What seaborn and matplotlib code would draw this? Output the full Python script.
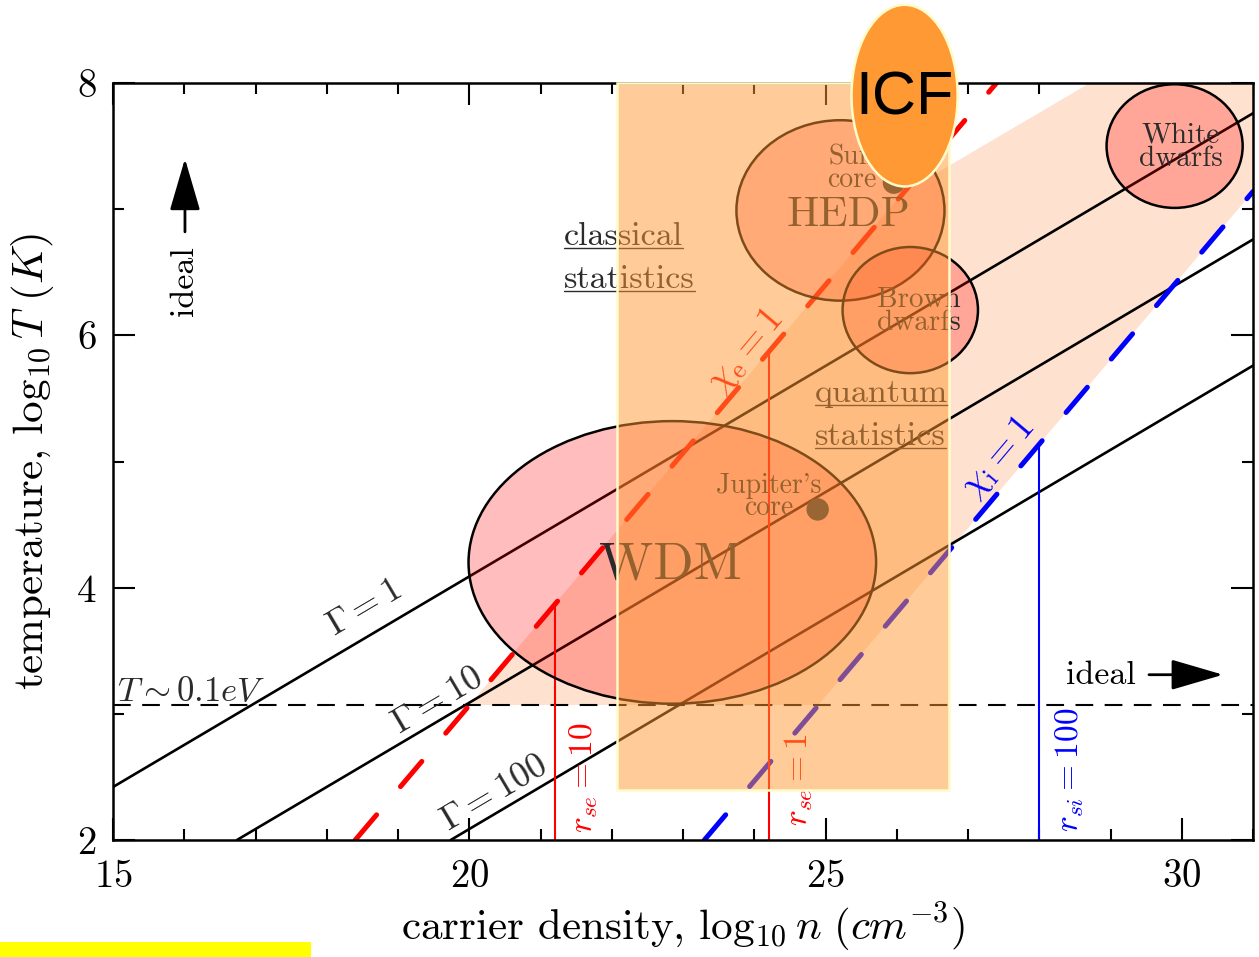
import numpy as np
import pandas as pd
import seaborn as sns
import matplotlib.pyplot as plt
from matplotlib.patches import Ellipse, Rectangle

# coupling lines Gamma = 1, 10, 100 (end points)
gamma_names = [r"$\Gamma = 1$", r"$\Gamma = 10$", r"$\Gamma = 100$"]
gamma_x0 = [15.0, 16.74, 19.74]
gamma_y0 = [2.42, 2.0, 2.0]
gamma_x1 = [31.0, 31.0, 31.0]
gamma_y1 = [7.76, 6.76, 5.76]
gamma_lab_x = [18.52, 19.55, 20.35]
gamma_lab_y = [3.84, 3.10, 2.37]

# degeneracy lines chi = 1
chi_e_x = [18.4, 27.4]
chi_e_y = [2.0, 8.0]
chi_i_x = [23.3, 31.0]
chi_i_y = [2.0, 7.14]

# T ~ 0.1 eV
t_01ev = 3.07

# r_s = const lines
rs_names = [r"$r_{se} = 10$", r"$r_{se} = 1$", r"$r_{si} = 100$"]
rs_x = [21.2, 24.2, 28.0]
rs_top = [3.87, 5.87, 5.14]
rs_colors = ["red", "red", "blue"]
rs_lab_x = [21.61, 24.63, 28.43]
rs_lab_y = [2.49, 2.48, 2.56]

# warm dense matter band
wdm_x = [20.0, 26.09, 28.71, 31.0, 31.0, 24.9]
wdm_y = [3.07, 7.13, 8.0, 8.0, 7.14, 3.07]

# regimes / objects
obj_names = ["WDM", "HEDP", "Brown\ndwarfs", "White\ndwarfs"]
obj_x = [22.85, 25.21, 26.19, 29.90]
obj_y = [4.20, 6.99, 6.20, 7.50]
obj_w = [5.72, 2.92, 1.90, 1.91]
obj_h = [2.24, 1.43, 1.00, 0.98]
obj_lab_x = [22.82, 25.32, 26.31, 29.99]
obj_lab_y = [4.18, 6.95, 6.19, 7.49]
obj_lab_size = [38, 31, 21, 21]

# planet / star cores
core_names = ["Sun\ncore", "Jupiter's\ncore"]
core_x = [25.96, 24.89]
core_y = [7.21, 4.62]
core_lab_x = [25.37, 24.20]
core_lab_y = [7.32, 4.72]

# ICF box and blob
icf_x = [22.08, 26.73]
icf_y = [2.40, 8.0]
icf_blob = [26.11, 7.90, 1.49, 1.44]

sns.set_theme(style="ticks")
plt.rcParams["font.family"] = ["cmr10", "DejaVu Serif"]
plt.rcParams["mathtext.fontset"] = "cm"
plt.rcParams["axes.formatter.use_mathtext"] = True
plt.rcParams["axes.unicode_minus"] = False

fig = plt.figure(figsize=(12.59, 9.57), dpi=100)
ax = fig.add_axes([113/1259, 1-840/957, 1140/1259, 757/957])

txt = "#2b2b2b"

# peach band
ax.fill(wdm_x, wdm_y, color="#FFE1CF", lw=0, zorder=1)

# Gamma lines
for i in range(3):
    sns.lineplot(x=[gamma_x0[i], gamma_x1[i]], y=[gamma_y0[i], gamma_y1[i]],
                 color="black", lw=1.9, ax=ax, zorder=2)
    ax.text(gamma_lab_x[i], gamma_lab_y[i], gamma_names[i], fontsize=26,
            rotation=30.6, rotation_mode="anchor", ha="center", va="center",
            color=txt, zorder=4)

ax.axhline(t_01ev, color="black", lw=1.5, dashes=(8.5, 5.5), zorder=2)
ax.text(15.06, t_01ev + 0.1, r"$T\sim0.1eV$", fontsize=25, ha="left",
        va="center", color=txt, zorder=4)

sns.lineplot(x=chi_e_x, y=chi_e_y, color="red", lw=3.6, ax=ax, zorder=2,
             linestyle=(0, (6.6, 7.4)))
sns.lineplot(x=chi_i_x, y=chi_i_y, color="blue", lw=3.6, ax=ax, zorder=2,
             linestyle=(0, (6.6, 7.4)))
for ln in ax.get_lines()[-2:]:
    ln.set_dash_capstyle("round")
ax.text(23.88, 5.88, r"$\chi_{\mathrm{e}} = 1$", fontsize=27, color="red",
        rotation=49.8, rotation_mode="anchor", ha="center", va="center", zorder=4)
ax.text(27.42, 5.03, r"$\chi_{\mathrm{i}} = 1$", fontsize=27, color="blue",
        rotation=49.8, rotation_mode="anchor", ha="center", va="center", zorder=4)

for i in range(3):
    ax.plot([rs_x[i], rs_x[i]], [2.0, rs_top[i]], color=rs_colors[i], lw=1.5, zorder=2)
    ax.text(rs_lab_x[i], rs_lab_y[i], rs_names[i], fontsize=24, color=rs_colors[i],
            rotation=90, ha="center", va="center", zorder=4)

# ellipses
for i in range(4):
    ax.add_patch(Ellipse((obj_x[i], obj_y[i]), obj_w[i], obj_h[i],
                         facecolor=(1, 0, 0, 0.26), edgecolor="black", lw=1.8, zorder=3))
    ax.text(obj_lab_x[i], obj_lab_y[i], obj_names[i], fontsize=obj_lab_size[i],
            ha="center", va="center", linespacing=0.85, color=txt, zorder=4)

sns.scatterplot(x=core_x, y=core_y, s=260, color="#333333", edgecolor="none",
                ax=ax, zorder=3.5)
for i in range(2):
    ax.text(core_lab_x[i], core_lab_y[i], core_names[i], fontsize=20,
            ha="center", va="center", linespacing=0.8, color=txt, zorder=4)

# statistics labels and ideal arrows
under = []
under.append(ax.text(21.33, 6.78, "classical", fontsize=24.5, ha="left", va="center", color=txt, zorder=4))
under.append(ax.text(21.33, 6.44, "statistics", fontsize=24.5, ha="left", va="center", color=txt, zorder=4))
under.append(ax.text(24.85, 5.54, "quantum", fontsize=24.5, ha="left", va="center", color=txt, zorder=4))
under.append(ax.text(24.85, 5.20, "statistics", fontsize=24.5, ha="left", va="center", color=txt, zorder=4))

ax.text(16.01, 6.43, "ideal", fontsize=24.5, rotation=90, ha="center", va="center", color="black")
ax.annotate("", xy=(16.01, 7.40), xytext=(16.01, 6.82),
            arrowprops=dict(arrowstyle="-|>,head_length=1.3,head_width=0.38",
                            lw=2, color="black", mutation_scale=25, shrinkA=0, shrinkB=0))
ax.text(28.86, 3.30, "ideal", fontsize=24.5, ha="center", va="center", color="black")
ax.annotate("", xy=(30.58, 3.31), xytext=(29.54, 3.31),
            arrowprops=dict(arrowstyle="-|>,head_length=1.3,head_width=0.38",
                            lw=2, color="black", mutation_scale=25, shrinkA=0, shrinkB=0))

# ICF box and blob
ax.add_patch(Rectangle((icf_x[0], icf_y[0]), icf_x[1] - icf_x[0], icf_y[1] - icf_y[0],
                       facecolor=(1, 0.6, 0.2, 0.5), edgecolor="#FFFBC8", lw=1.8,
                       zorder=5, clip_on=False))
ax.add_patch(Ellipse((icf_blob[0], icf_blob[1]), icf_blob[2], icf_blob[3],
                     facecolor="#FF9933", edgecolor="#FFFBC8", lw=1.8, zorder=6, clip_on=False))
ax.text(icf_blob[0], icf_blob[1] - 0.03, "ICF", fontsize=44, family="Liberation Sans",
        ha="center", va="center", color="black", zorder=7, clip_on=False)

ax.set_xlim(15, 31)
ax.set_ylim(2, 8)
ax.set_xticks([15, 20, 25, 30])
ax.set_xticks(range(15, 32), minor=True)
ax.set_yticks([2, 4, 6, 8])
ax.set_yticks(range(2, 9), minor=True)
ax.tick_params(which="both", direction="in", top=True, right=True, width=1.5,
               color="black", labelsize=28, labelcolor="black")
ax.tick_params(which="major", length=16)
ax.tick_params(which="minor", length=8)
ax.tick_params(axis="x", pad=14)
ax.tick_params(axis="y", pad=12)
for s in ax.spines.values():
    s.set_linewidth(1.8)
    s.set_color("black")
    s.set_zorder(2.5)
ax.set_facecolor("white")

ax.set_xlabel(r"carrier density, $\log_{10} n\ (cm^{-3})$", fontsize=31, color="black")
ax.set_ylabel(r"temperature, $\log_{10} T\ (K)$", fontsize=31, color="black")
ax.xaxis.set_label_coords(0.5, -0.08)
ax.yaxis.set_label_coords(-0.05, 0.5)

# underline the statistics labels
fig.canvas.draw()
r = fig.canvas.get_renderer()
inv = ax.transData.inverted()
for t in under:
    bb = t.get_window_extent(r)
    (x0, y0), (x1, y1) = inv.transform([[bb.x0, bb.y0 + 3], [bb.x1, bb.y1]])
    ax.plot([x0, x1], [y0, y0], color=txt, lw=1.0, zorder=4)

# yellow strip in the corner
fig.add_artist(Rectangle((0, 0), 311/1259, 15/957, transform=fig.transFigure,
                         facecolor="#FFFF00", edgecolor="none"))

fig.savefig("out.png", dpi=100)
